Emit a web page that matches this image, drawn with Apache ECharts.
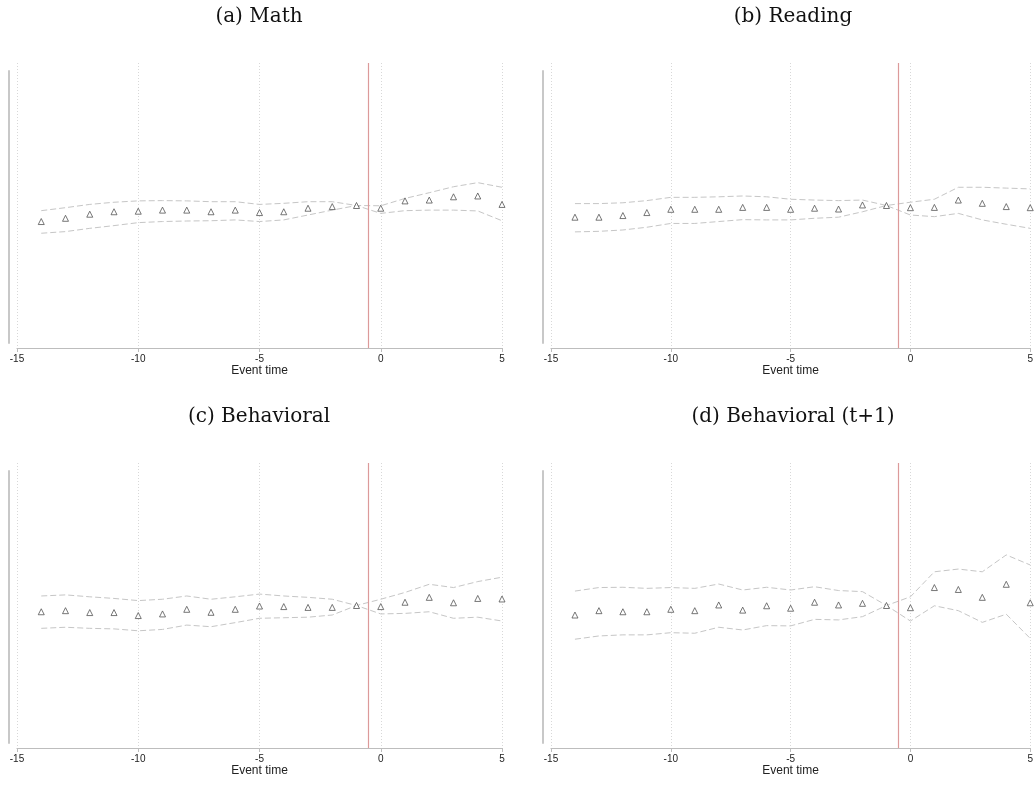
<!DOCTYPE html>
<html>
<head>
    <meta charset="utf-8" />
    <style>
        html, body {
        margin: 0;
        padding: 0;
        background-color: #fff;
        }
    </style>
    <script src="https://cdn.jsdelivr.net/npm/echarts@6/dist/echarts.min.js"></script>
</head>
<body>
    <div id="chart" style="width: 1036px; height: 788px;"></div>

    <script type="text/javascript">
        // event time -14 .. 5
        var eventTime = [-14, -13, -12, -11, -10, -9, -8, -7, -6, -5, -4, -3, -2, -1, 0, 1, 2, 3, 4, 5];
        var xTicks = [-15, -10, -5, 0, 5];

        var mathCoef  = [-0.059, -0.047, -0.032, -0.023, -0.021, -0.017, -0.017, -0.023, -0.017, -0.026, -0.023, -0.010, -0.004, 0, -0.010, 0.017, 0.020, 0.032, 0.035, 0.004];
        var mathUpper = [-0.019, -0.008, 0.004, 0.012, 0.017, 0.018, 0.017, 0.014, 0.014, 0.004, 0.008, 0.014, 0.014, 0, -0.001, 0.026, 0.047, 0.069, 0.084, 0.067];
        var mathLower = [-0.102, -0.096, -0.084, -0.074, -0.063, -0.059, -0.057, -0.056, -0.053, -0.059, -0.053, -0.035, -0.017, 0, -0.029, -0.019, -0.017, -0.017, -0.020, -0.056];

        var readCoef  = [-0.043, -0.043, -0.037, -0.026, -0.014, -0.014, -0.014, -0.007, -0.007, -0.014, -0.010, -0.013, 0.002, 0, -0.008, -0.007, 0.020, 0.008, -0.004, -0.008];
        var readUpper = [0.007, 0.007, 0.010, 0.018, 0.030, 0.030, 0.032, 0.035, 0.032, 0.023, 0.020, 0.018, 0.020, 0, 0.012, 0.023, 0.067, 0.067, 0.064, 0.061];
        var readLower = [-0.097, -0.095, -0.090, -0.080, -0.066, -0.066, -0.059, -0.052, -0.053, -0.053, -0.047, -0.043, -0.023, 0, -0.035, -0.041, -0.029, -0.053, -0.069, -0.084];

        var behavCoef  = [-0.023, -0.019, -0.026, -0.026, -0.037, -0.031, -0.014, -0.025, -0.014, -0.002, -0.004, -0.007, -0.007, 0, -0.004, 0.012, 0.030, 0.010, 0.026, 0.024];
        var behavUpper = [0.035, 0.039, 0.032, 0.026, 0.018, 0.023, 0.035, 0.023, 0.032, 0.042, 0.035, 0.030, 0.023, 0, 0.023, 0.048, 0.078, 0.066, 0.088, 0.104];
        var behavLower = [-0.084, -0.080, -0.084, -0.086, -0.093, -0.088, -0.072, -0.078, -0.063, -0.047, -0.045, -0.043, -0.035, 0, -0.031, -0.029, -0.023, -0.047, -0.043, -0.057];

        var leadCoef  = [-0.035, -0.019, -0.023, -0.023, -0.014, -0.019, 0.002, -0.017, -0.001, -0.010, 0.012, 0.002, 0.008, 0, -0.008, 0.066, 0.059, 0.030, 0.078, 0.010];
        var leadUpper = [0.053, 0.066, 0.067, 0.063, 0.066, 0.063, 0.079, 0.057, 0.067, 0.057, 0.069, 0.055, 0.051, 0, 0.032, 0.124, 0.134, 0.124, 0.186, 0.149];
        var leadLower = [-0.124, -0.112, -0.108, -0.108, -0.100, -0.102, -0.080, -0.090, -0.074, -0.075, -0.051, -0.053, -0.041, 0, -0.057, -0.001, -0.019, -0.062, -0.032, -0.121];

        var treatLine = -0.5;

        var panels = [
            { title: '(a) Math',             coef: mathCoef,  upper: mathUpper,  lower: mathLower,  left: 17,  top: 63 },
            { title: '(b) Reading',          coef: readCoef,  upper: readUpper,  lower: readLower,  left: 551, top: 63 },
            { title: '(c) Behavioral',       coef: behavCoef, upper: behavUpper, lower: behavLower, left: 17,  top: 463 },
            { title: '(d) Behavioral (t+1)', coef: leadCoef,  upper: leadUpper,  lower: leadLower,  left: 551, top: 463 }
        ];

        function pairs(ys) {
            return eventTime.map(function (t, i) { return [t, ys[i]]; });
        }

        var titles = [], grids = [], xAxes = [], yAxes = [], series = [];

        panels.forEach(function (p, k) {
            var gMain = k * 2, gAxis = k * 2 + 1;
            titles.push({
                text: p.title,
                left: p.left + 242,
                top: p.top - 56,
                textAlign: 'center',
                padding: 0,
                textStyle: { fontFamily: 'DejaVu Serif', fontWeight: 'normal', fontSize: 20, color: '#111' }
            });
            // main plot region
            grids.push({ left: p.left, top: p.top, width: 485, height: 285 });
            // short y axis line, inset like Stata
            grids.push({ left: p.left - 8, top: p.top + 8, width: 10, height: 272 });

            xAxes.push({
                type: 'value', gridIndex: gMain, min: -15, max: 5, interval: 5,
                name: 'Event time', nameLocation: 'middle', nameGap: 16,
                nameTextStyle: { fontFamily: 'Liberation Sans', fontSize: 12, color: '#222' },
                axisLine: { show: true, onZero: false, lineStyle: { color: '#bdbdbd', width: 1.2 } },
                axisTick: { show: true, length: 4, lineStyle: { color: '#bdbdbd' } },
                axisLabel: { fontFamily: 'Liberation Sans', fontSize: 10, color: '#222', margin: 6 },
                splitLine: { show: true, lineStyle: { color: '#d8d8d8', type: [1, 2], width: 1 } }
            });
            xAxes.push({ type: 'value', gridIndex: gAxis, show: false });

            yAxes.push({
                type: 'value', gridIndex: gMain, min: -0.524, max: 0.524, show: false
            });
            yAxes.push({
                type: 'value', gridIndex: gAxis, min: -0.5, max: 0.5,
                axisLine: { show: true, onZero: false, lineStyle: { color: '#c8c8c8', width: 2 } },
                axisTick: { show: false }, axisLabel: { show: false }, splitLine: { show: false }
            });

            var dash = { color: '#c6c6c6', width: 1, type: [6, 3] };
            series.push({
                type: 'line', xAxisIndex: gMain, yAxisIndex: gMain, data: pairs(p.upper),
                symbol: 'none', lineStyle: dash, silent: true, z: 2,
                markLine: {
                    silent: true, symbol: 'none', label: { show: false },
                    lineStyle: { color: '#dc9a9a', width: 1.2, type: 'solid' },
                    data: [{ xAxis: treatLine }]
                }
            });
            series.push({
                type: 'line', xAxisIndex: gMain, yAxisIndex: gMain, data: pairs(p.lower),
                symbol: 'none', lineStyle: dash, silent: true, z: 2
            });
            series.push({
                type: 'scatter', xAxisIndex: gMain, yAxisIndex: gMain, data: pairs(p.coef),
                symbol: 'triangle', symbolSize: 6, z: 3,
                itemStyle: { color: '#fff', borderColor: '#555', borderWidth: 1 }
            });
        });

        var myChart = echarts.init(document.getElementById('chart'));
        myChart.setOption({
            backgroundColor: '#fff',
            animation: false,
            title: titles,
            grid: grids,
            xAxis: xAxes,
            yAxis: yAxes,
            series: series
        });
    </script>
</body>
</html>
